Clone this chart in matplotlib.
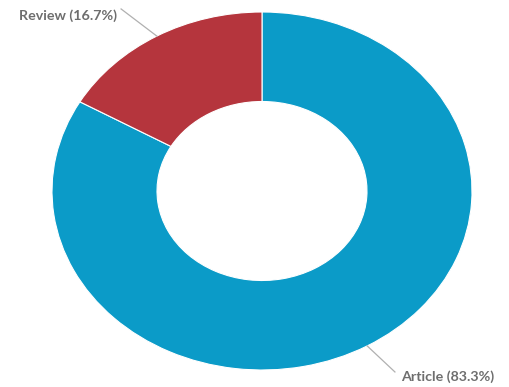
import matplotlib
matplotlib.use("Agg")
import matplotlib.pyplot as plt
import numpy as np

categories = ["Article", "Review"]
shares = [83.3, 16.7]
colors = ["#0b9bc8", "#b5353d"]

fig = plt.figure(figsize=(5.10, 3.87), dpi=100)
ax = fig.add_axes([52/510, 17/387, 420/510, 358/387])
wedges, _ = ax.pie(shares, colors=colors, startangle=90, counterclock=False,
                   radius=1.0, wedgeprops=dict(width=0.5, edgecolor="white", linewidth=0.8))
ax.set_aspect("auto")
ax.set_xlim(-1, 1)
ax.set_ylim(-1, 1)
ax.axis("off")

def mid_angle(w):
    return np.deg2rad((w.theta1 + w.theta2) / 2)

label_cfg = {
    "Article": dict(end=(0.633, -1.011), text=(0.66, -1.04), ha="left"),
    "Review": dict(end=(-0.671, 1.017), text=(-0.69, 0.978), ha="right"),
}
for w, cat, val in zip(wedges, categories, shares):
    a = mid_angle(w)
    x0, y0 = np.cos(a) * 1.0, np.sin(a) * 1.0
    cfg = label_cfg[cat]
    ax.plot([x0, cfg["end"][0]], [y0, cfg["end"][1]], color="#b0b0b0", lw=0.9, clip_on=False)
    ax.text(cfg["text"][0], cfg["text"][1], f"{cat} ({val}%)", ha=cfg["ha"], va="center",
            fontsize=10.3, color="#6e6e6e", family="Lato", fontweight="bold", clip_on=False)

fig.savefig("out.png", dpi=100)
